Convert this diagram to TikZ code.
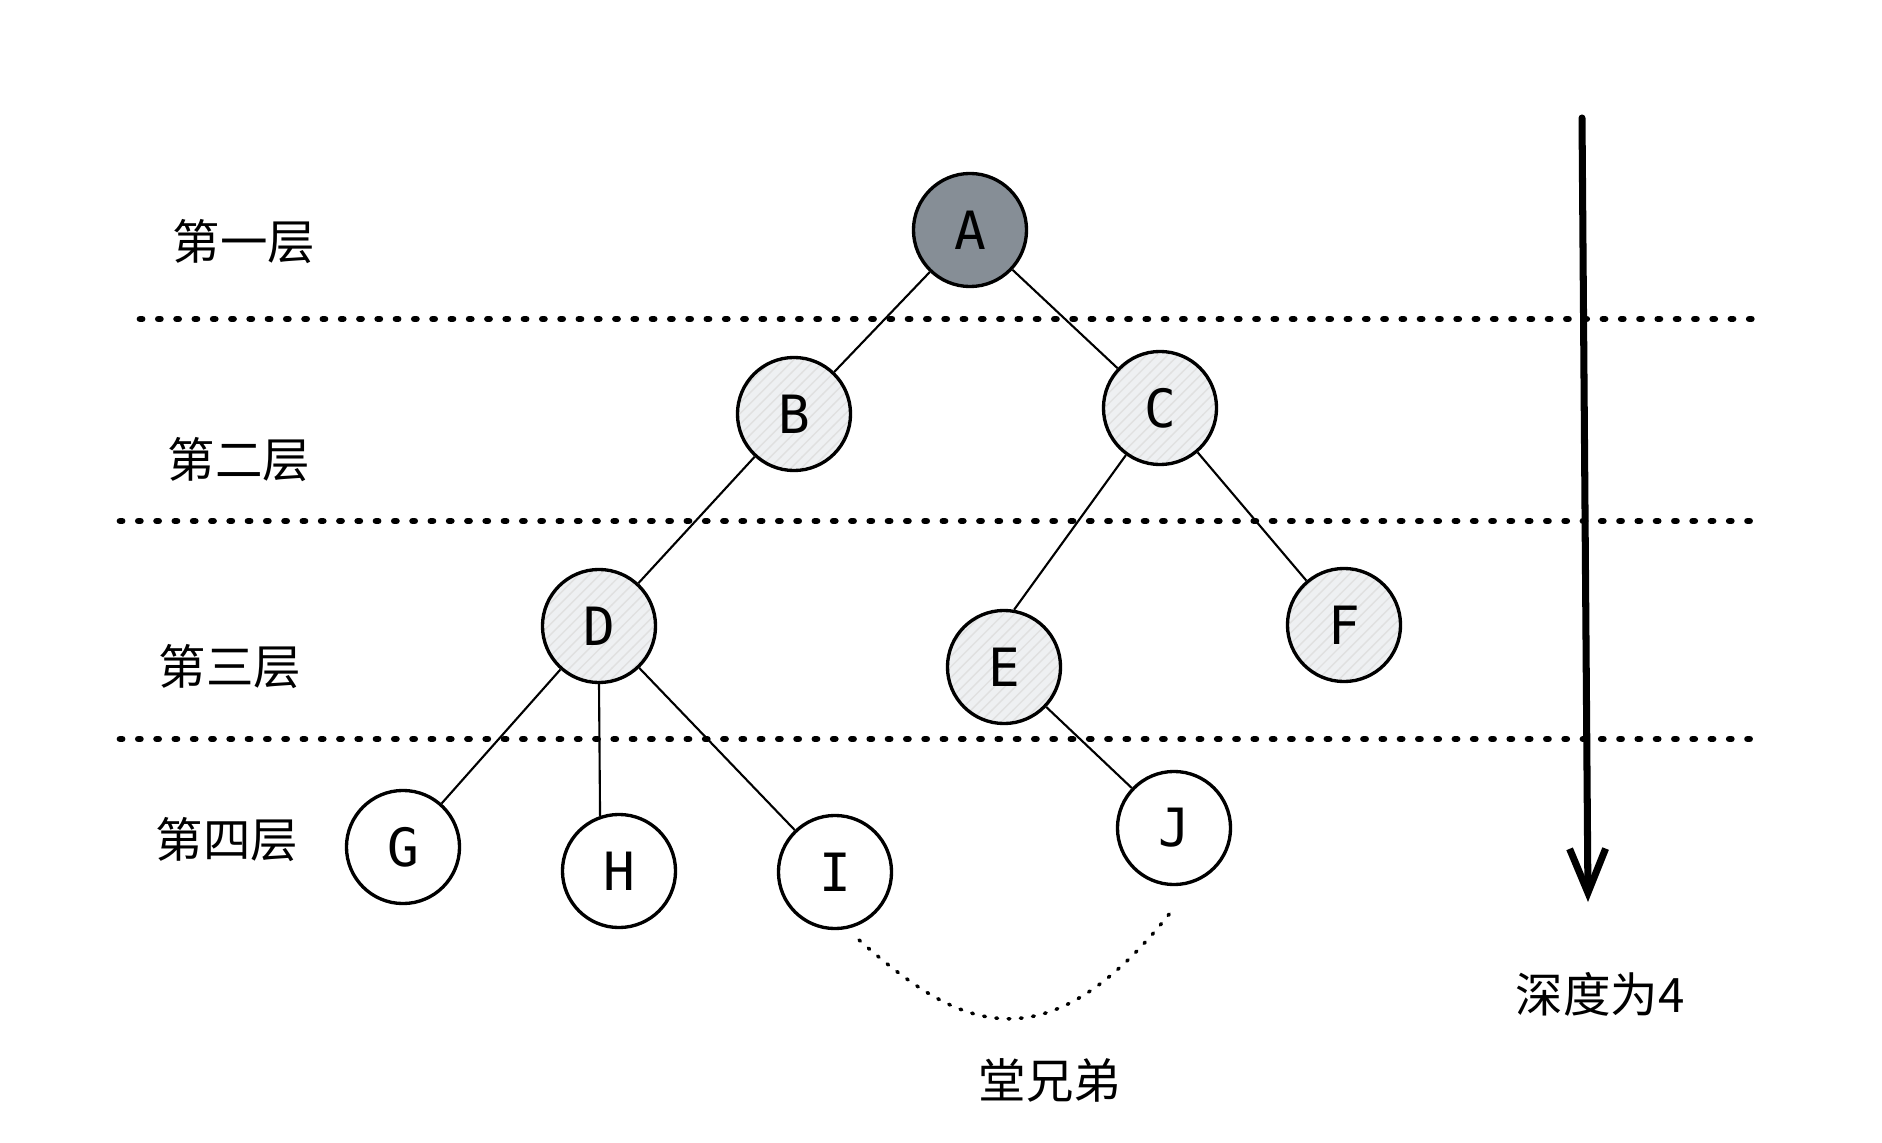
\documentclass[tikz,border=0pt]{standalone}
\usepackage{fontspec}
\newfontfamily\cjk{Noto Sans CJK SC}
\newfontfamily\keyfont{DejaVu Sans Mono}
\usetikzlibrary{arrows.meta,patterns}
\definecolor{rootgray}{HTML}{868E96}
\definecolor{hatchgray}{HTML}{EEF0F2}
\begin{document}
\begin{tikzpicture}[x=0.01cm,y=-0.01cm,
  vertex/.style={circle,draw,line width=0.95pt,minimum size=1.13cm,inner sep=0pt,
    font=\keyfont\fontsize{15}{18}\selectfont},
  root/.style={vertex,fill=rootgray},
  visited/.style={vertex,preaction={fill=hatchgray},preaction={pattern=north east lines,pattern color=black!12}},
  layer/.style={font=\cjk\fontsize{13.5}{16}\selectfont},
  sep/.style={line width=1.9pt,line cap=round,dash pattern=on 0.6pt off 4.6pt},
  edge/.style={line width=0.6pt}]
\useasboundingbox (0,0) rectangle (1882,1143);
	\node[root] (A) at (970,230) {A};
	\node[visited] (B) at (794,414) {B};
	\node[visited] (C) at (1160,408) {C};
	\node[visited] (D) at (599,626) {D};
	\node[visited] (E) at (1004,667) {E};
	\node[visited] (F) at (1344,625) {F};
	\node[vertex] (G) at (403,847) {G};
	\node[vertex] (H) at (619,871) {H};
	\node[vertex] (I) at (835,872) {I};
	\node[vertex] (J) at (1174,828) {J};
	\draw[edge] (A) -- (B);
	\draw[edge] (A) -- (C);
	\draw[edge] (B) -- (D);
	\draw[edge] (C) -- (E.80);
	\draw[edge] (C) -- (F);
	\draw[edge] (D) -- (G);
	\draw[edge] (D.south) -- (H.109);
	\draw[edge] (D) -- (I);
	\draw[edge] (E) -- (J);
	% layers
	\node[layer] (L1) at (244,242) {第一层};
	\node[layer] (L2) at (239,460) {第二层};
	\node[layer] (L3) at (230,667) {第三层};
	\node[layer] (L4) at (227,840) {第四层};
	\draw[sep] (140,319) -- (1757,319);
	\draw[sep] (120,521) -- (1757,521);
	\draw[sep] (120,739) -- (1757,739);
	% depth
	\coordinate (depthtop) at (1582,118);
	\coordinate (depthend) at (1588,902);
	\draw[line width=2pt,line cap=round,-{Straight Barb[length=0.44cm,width=0.36cm,line width=2pt]}]
	(depthtop) -- (depthend);
	\node[layer] (depth) at (1600,994) {深度为4};
	% cousins
	\coordinate (cousinL) at (859,940);
	\coordinate (cousinR) at (1174,908);
	\draw[line width=1pt,line cap=round,dash pattern=on 0.5pt off 3pt]
	(cousinL) .. controls (950,1020) and (1040,1080) .. (cousinR);
	\node[layer] (cousin) at (1050,1080) {堂兄弟};
	\end{tikzpicture}
\end{document}
